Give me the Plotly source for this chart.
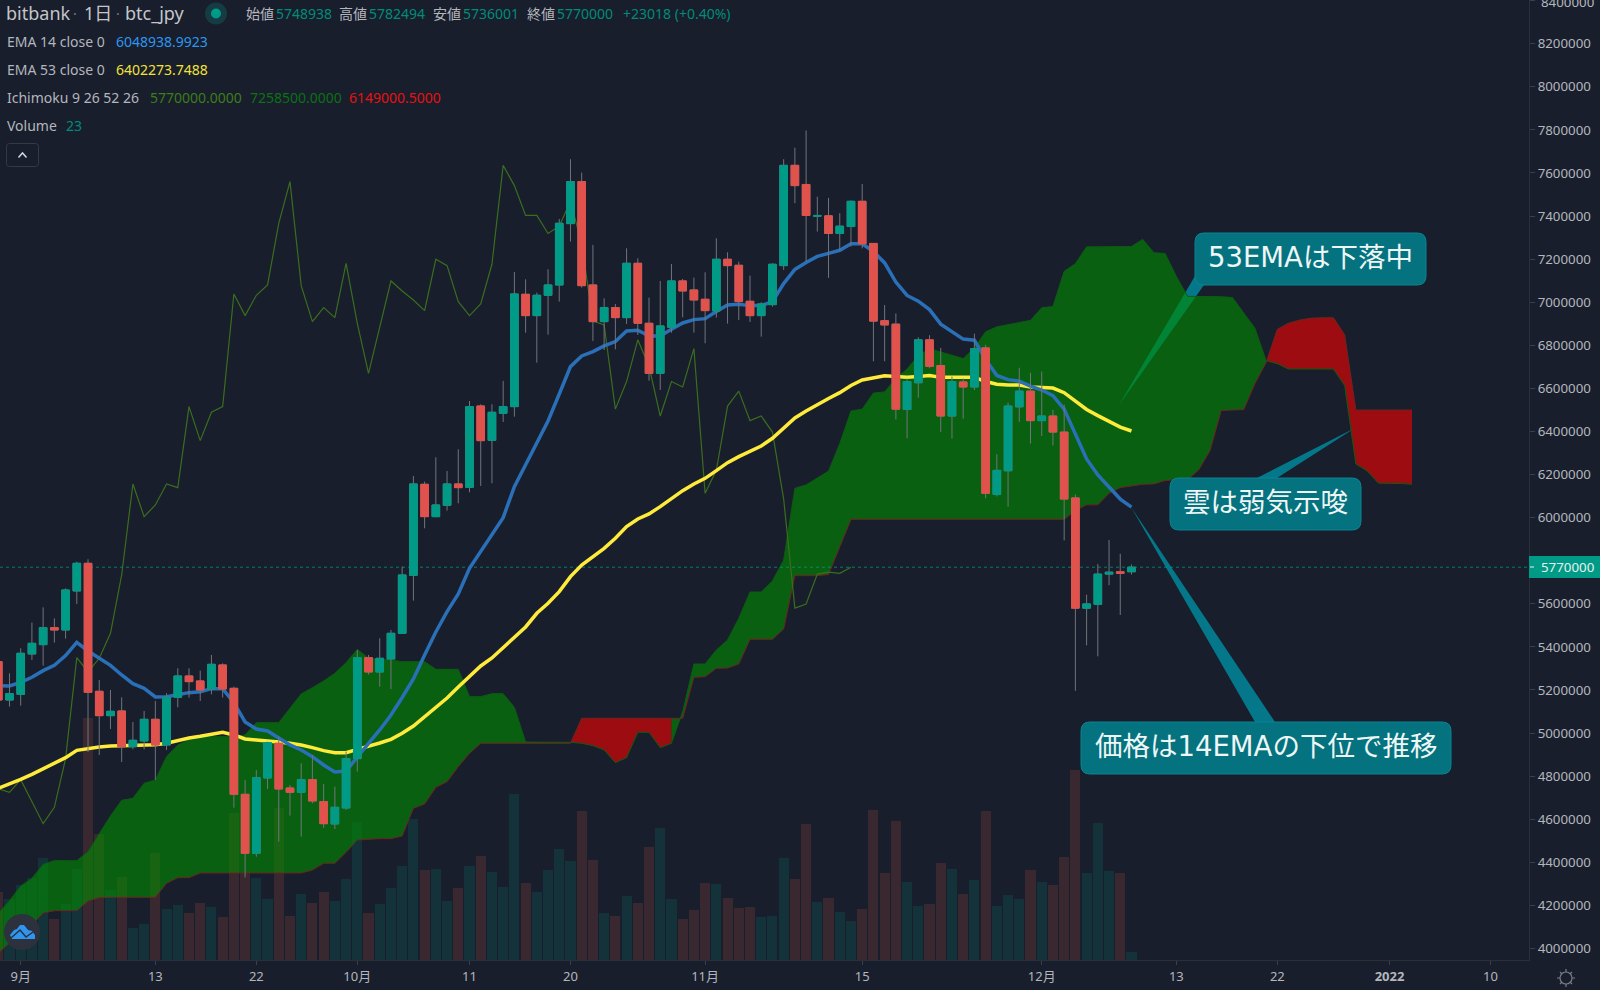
import pandas as pd
import plotly.graph_objects as go

# candles, one per day from 2021-08-30 (bitbank btc_jpy)
opens = [5331600, 5153600, 5180000, 5367200, 5410500, 5489500, 5478600, 5659700, 5788100, 5193900, 5080900, 5102600, 4937000, 4963300, 5063900, 4944800, 5166000, 5265100, 5241900, 5204700, 5316100, 5207800, 4715700, 4441800, 4791600, 4952500, 4745100, 4725000, 4783800, 4681700, 4578000, 4652300, 4881300, 5350200, 5283600, 5344000, 5463150, 5732400, 6154800, 6004700, 6057300, 6156400, 6140900, 6518500, 6359100, 6484500, 6515400, 7036900, 6937900, 7032300, 7080200, 7365000, 7560000, 7080200, 6910000, 6975000, 6928600, 7180800, 6902300, 6670100, 6883700, 7098800, 7057000, 7013700, 6959500, 7199400, 7171500, 7004400, 6937900, 6988900, 7170000, 7635500, 7546700, 7399300, 7401000, 7319300, 7351300, 7468500, 7273000, 6914200, 6898200, 6502000, 6626400, 6825400, 6706300, 6471800, 6629900, 6606800, 6788000, 6107600, 6217700, 6514500, 6587300, 6450500, 6471800, 6397200, 6091600, 5579900, 5597700, 5738000, 5748700, 5748938]
highs = [5370000, 5277400, 5393500, 5512700, 5583850, 5532800, 5672000, 5795900, 5806700, 5246500, 5200100, 5166000, 5051500, 5102600, 5149000, 5184600, 5300700, 5300700, 5289800, 5362600, 5323900, 5215550, 4782250, 4828700, 4960200, 4983400, 4759000, 4859600, 4898300, 4763700, 4751300, 4913800, 5385800, 5362600, 5439900, 5478600, 5772600, 6193500, 6167200, 6280200, 6216700, 6317300, 6541700, 6526200, 6526200, 6634600, 7140600, 7106500, 7044600, 7153000, 7386700, 7663600, 7601700, 7265900, 7018300, 6992000, 7250500, 7204000, 7021400, 7098800, 7177700, 7108100, 7114300, 7139000, 7296900, 7231900, 7188600, 7123600, 6999800, 7180800, 7664000, 7717200, 7797300, 7489900, 7484600, 7413400, 7472000, 7548500, 7273000, 6987000, 6948000, 6645900, 6837800, 6846700, 6788000, 6654800, 6645900, 6853800, 6802300, 6294100, 6534000, 6695700, 6672600, 6677900, 6500200, 6525000, 6107600, 5642100, 5784200, 5896100, 5832200, 5782494]
lows = [5130000, 5122700, 5127000, 5339350, 5313000, 5419800, 5438400, 5599300, 4912200, 4898300, 5019000, 4865800, 4924600, 4924600, 4782250, 4921500, 5119600, 5164500, 5149000, 5180000, 5164500, 4653800, 4330400, 4426300, 4740500, 4496000, 4616600, 4519200, 4673900, 4559400, 4554800, 4643000, 4820900, 5271300, 5215550, 5204700, 5460000, 5614800, 5950600, 6001600, 6032600, 6066600, 6117700, 6147100, 6159500, 6444200, 6469000, 6858900, 6719700, 6849700, 7002900, 7281400, 7067900, 6820300, 6778500, 6781600, 6899200, 6848100, 6636100, 6592800, 6858900, 6930100, 6858900, 6809400, 6928600, 6900700, 6917700, 6908500, 6840400, 6979700, 7150000, 7459600, 7187800, 7328200, 7113200, 7241100, 7258900, 7250000, 6725800, 6725800, 6455800, 6368700, 6557100, 6693900, 6397200, 6367000, 6459400, 6592600, 6089800, 6098700, 6050700, 6445100, 6343900, 6379400, 6335000, 5894400, 5196100, 5407500, 5356000, 5686500, 5547900, 5736001]
closes = [5153600, 5183000, 5370300, 5416700, 5489500, 5478600, 5664300, 5788100, 5189250, 5080900, 5101000, 4937000, 4966400, 5063900, 4944800, 5166000, 5265100, 5238800, 5200100, 5319200, 5204700, 4715700, 4441800, 4793000, 4955600, 4740500, 4725000, 4783800, 4684800, 4579500, 4655400, 4881300, 5350200, 5283600, 5347100, 5463150, 5733900, 6156400, 6004700, 6058900, 6156400, 6139400, 6515400, 6357500, 6489100, 6515400, 7038500, 6937900, 7032300, 7080200, 7366500, 7560000, 7077100, 6910000, 6975000, 6928600, 7180800, 6902300, 6670100, 6889900, 7098800, 7052400, 7010600, 6961100, 7199400, 7170000, 7002900, 6937900, 6992000, 7176200, 7635500, 7541400, 7402800, 7402800, 7319300, 7353000, 7468500, 7271300, 6912400, 6894700, 6503800, 6631700, 6825400, 6702800, 6471800, 6631700, 6606800, 6784500, 6112900, 6219500, 6518000, 6587300, 6450500, 6471800, 6397200, 6086300, 5579900, 5599400, 5738000, 5746900, 5741600, 5770000]
volumes = [205, 183, 225, 245, 305, 124, 168, 273, 725, 377, 210, 250, 95, 107, 320, 152, 165, 140, 170, 160, 130, 442, 260, 247, 183, 455, 132, 199, 170, 204, 177, 243, 415, 140, 168, 215, 283, 423, 270, 273, 177, 217, 283, 313, 264, 220, 498, 232, 204, 271, 333, 296, 447, 300, 142, 133, 193, 172, 339, 396, 184, 123, 150, 232, 229, 186, 156, 159, 130, 133, 306, 243, 409, 173, 187, 145, 117, 153, 449, 261, 417, 234, 163, 168, 292, 274, 199, 240, 447, 163, 195, 182, 269, 234, 225, 309, 571, 262, 412, 266, 261, 23]

ema14 = [5220200, 5218600, 5235700, 5258900, 5289800, 5314600, 5359500, 5421400, 5381100, 5347100, 5314600, 5269700, 5229500, 5207800, 5167600, 5169100, 5180000, 5187700, 5192300, 5206300, 5206300, 5141300, 5051500, 5019000, 5009700, 4975700, 4944800, 4921500, 4890600, 4851900, 4819400, 4824000, 4890600, 4952500, 5014400, 5084000, 5165000, 5251000, 5362600, 5469400, 5563700, 5645700, 5764900, 5842300, 5922800, 6000200, 6144000, 6244600, 6349900, 6448900, 6574200, 6701100, 6750600, 6770700, 6797000, 6817200, 6866700, 6869800, 6843500, 6843500, 6874500, 6903800, 6919300, 6923900, 6956500, 6987400, 6990500, 6984300, 6984300, 7002900, 7086500, 7152300, 7184200, 7212700, 7226900, 7241100, 7271300, 7271300, 7235800, 7182500, 7093600, 7031500, 7004800, 6965700, 6898200, 6862700, 6828900, 6823600, 6734750, 6660100, 6640600, 6633500, 6610400, 6592600, 6566000, 6503800, 6391800, 6272800, 6198200, 6139600, 6086300, 6048938]
ema53 = [4743600, 4763700, 4785300, 4808600, 4834900, 4858100, 4885900, 4920000, 4929300, 4935500, 4940100, 4941600, 4944800, 4944800, 4946300, 4952500, 4966400, 4977200, 4985000, 4995800, 5003500, 4991200, 4972600, 4968000, 4964900, 4958700, 4952500, 4944800, 4932400, 4918400, 4909100, 4909100, 4924600, 4938600, 4954000, 4971000, 4998900, 5032950, 5074700, 5116500, 5162900, 5214000, 5260400, 5311500, 5348600, 5395000, 5446100, 5492600, 5556000, 5602400, 5656500, 5726200, 5780300, 5819000, 5857700, 5904100, 5958300, 5993800, 6017200, 6051100, 6089800, 6125300, 6156400, 6182600, 6218300, 6255300, 6283300, 6306500, 6332800, 6368400, 6414900, 6462900, 6494900, 6525100, 6553500, 6580200, 6613900, 6638800, 6649500, 6658400, 6654800, 6651200, 6654800, 6660100, 6651200, 6651200, 6651200, 6651200, 6631700, 6619300, 6615700, 6615700, 6606800, 6603300, 6601500, 6580200, 6539300, 6502000, 6473600, 6446900, 6420300, 6402273]

# ichimoku leading spans run 25 days past the last candle
lead_a = [4163250, 4222100, 4290100, 4325700, 4390700, 4407800, 4407800, 4407800, 4449600, 4531500, 4615100, 4687900, 4697100, 4766800, 4782200, 4890600, 4944800, 4968000, 4983400, 4983400, 4983400, 4983400, 4991200, 5048400, 5048400, 5048400, 5115000, 5181500, 5210900, 5241900, 5277400, 5326950, 5388900, 5347100, 5342400, 5339350, 5331600, 5331600, 5331600, 5296000, 5296000, 5296000, 5169100, 5169100, 5183000, 5183000, 5119600, 4958700, 4958000, 4958000, 4958000, 4957100, 4952500, 4941650, 4921500, 4862700, 4885950, 5003550, 5003550, 4932350, 4952500, 5099500, 5320800, 5320800, 5385800, 5432200, 5532800, 5655000, 5655000, 5706100, 5803600, 6136300, 6152000, 6184000, 6216000, 6343900, 6494900, 6503800, 6578400, 6583700, 6645900, 6690300, 6752500, 6784500, 6770300, 6755000, 6738300, 6788000, 6862700, 6885800, 6894700, 6903600, 6916000, 6974600, 6980000, 7143400, 7178900, 7257100, 7257100, 7257100, 7257100, 7258300, 7292000, 7229800, 7226300, 7119700, 7027300, 7027300, 7027300, 7025600, 7021900, 6950900, 6879800, 6728800, 6714600, 6689700, 6689700, 6689700, 6689700, 6689700, 6613300, 6249100, 6217100, 6160300, 6158500, 6158500, 6154900]
lead_b = [3979000, 4025000, 4063000, 4109000, 4165000, 4175600, 4175600, 4175600, 4220500, 4235950, 4237500, 4237500, 4237500, 4237500, 4237500, 4302500, 4328800, 4328800, 4350500, 4350500, 4350500, 4350500, 4350500, 4350500, 4350500, 4350500, 4350500, 4350500, 4364400, 4395400, 4395400, 4446450, 4503700, 4508300, 4509900, 4509900, 4522300, 4650700, 4670850, 4748200, 4774500, 4844150, 4906000, 4952500, 4952500, 4952500, 4952500, 4952500, 4952500, 4952500, 4952500, 4952500, 5068550, 5068550, 5068550, 5068550, 5068550, 5068550, 5068550, 5068550, 5068550, 5068550, 5258900, 5262000, 5300700, 5302200, 5320800, 5435300, 5435300, 5435300, 5483300, 5730900, 5730900, 5730900, 5736200, 5864200, 5992100, 5992100, 5992100, 5992100, 5992100, 5992100, 5992100, 5992100, 5992100, 5992100, 5992100, 5992100, 5992100, 5992100, 5992100, 5992100, 5992100, 5992100, 5992100, 5992100, 6033000, 6059600, 6059600, 6112900, 6139600, 6147000, 6154900, 6156700, 6172700, 6176200, 6176200, 6222400, 6311300, 6497800, 6499600, 6501400, 6622200, 6719900, 6874500, 6902900, 6917100, 6926000, 6927800, 6927800, 6849600, 6499600, 6499600, 6499600, 6499600, 6499600, 6499600]

# 5800000 is left out, the last price badge sits on top of it
price_ticks = [4000000, 4200000, 4400000, 4600000, 4800000, 5000000, 5200000, 5400000, 5600000, 6000000, 6200000, 6400000, 6600000, 6800000, 7000000, 7200000, 7400000, 7600000, 7800000, 8000000, 8200000, 8400000]
date_ticks = ["2021-09-01", "2021-09-13", "2021-09-22", "2021-10-01", "2021-10-11", "2021-10-20", "2021-11-01", "2021-11-15", "2021-12-01", "2021-12-13", "2021-12-22", "2022-01-01", "2022-01-10"]
date_labels = ["9月", "13", "22", "10月", "11", "20", "11月", "15", "12月", "13", "22", "<b>2022</b>", "10"]
last_price = 5770000
price_range = [3946600, 8403000]

assert len(opens) == len(highs) == len(lows) == len(closes) == len(volumes) == len(ema14) == len(ema53) == 102
assert len(lead_a) == len(lead_b) == 127

BG = "#181e2b"
TEAL = "#009b87"
RED = "#e2524c"
WICK = "#71747c"
GREY = "#b4b6be"
FONT = "Noto Sans, Noto Sans CJK JP"
CALLOUT_FONT = "DejaVu Sans, Noto Sans CJK JP"

# plot area in screen pixels, used to place the header and the callouts
PLOT_W = 1529
PLOT_H = 960


def fx(px):
    return px / PLOT_W


def fy(py):
    return 1 - py / PLOT_H


def path_of(points):
    return "M " + " L ".join(f"{fx(x):.5f} {fy(y):.5f}" for x, y in points) + " Z"


def rounded_box(x0, y0, x1, y1, r):
    p = lambda x, y: f"{fx(x):.5f} {fy(y):.5f}"
    return (f"M {p(x0 + r, y0)} L {p(x1 - r, y0)} Q {p(x1, y0)} {p(x1, y0 + r)} "
            f"L {p(x1, y1 - r)} Q {p(x1, y1)} {p(x1 - r, y1)} L {p(x0 + r, y1)} "
            f"Q {p(x0, y1)} {p(x0, y1 - r)} L {p(x0, y0 + r)} Q {p(x0, y0)} {p(x0 + r, y0)} Z")


dates = pd.date_range("2021-08-30", periods=len(lead_a), freq="D")
candle_dates = dates[:len(closes)]
body_high = [max(o, c) for o, c in zip(opens, closes)]
body_low = [min(o, c) for o, c in zip(opens, closes)]
x_range = ["2021-08-30 03:43", "2022-01-13 10:19"]

fig = go.Figure()

# volume sits on the primary axis so everything else draws over it
fig.add_trace(go.Bar(
    x=candle_dates, y=volumes, yaxis="y", width=0.9 * 86400000,
    marker=dict(color=["#14323a" if c >= o else "#3a2830" for o, c in zip(opens, closes)], line_width=0),
))

# cloud: each stretch takes its colour from the sign at its right hand end
signs = [a >= b for a, b in zip(lead_a, lead_b)]
start = 0
for i in range(1, len(dates)):
    if i == len(dates) - 1 or signs[i + 1] != signs[i]:
        xs = list(dates[start:i + 1])
        fig.add_trace(go.Scatter(
            x=xs + xs[::-1], y=lead_a[start:i + 1] + lead_b[start:i + 1][::-1], yaxis="y2",
            mode="lines", line_width=0, fill="toself",
            fillcolor="rgba(2,140,0,0.6)" if signs[i] else "rgba(245,0,0,0.6)",
        ))
        start = i

fig.add_trace(go.Scatter(x=dates, y=lead_a, yaxis="y2", mode="lines", line=dict(color="#0c5c12", width=1)))
fig.add_trace(go.Scatter(x=dates, y=lead_b, yaxis="y2", mode="lines", line=dict(color="#6e2420", width=1)))

# lagging span is the close moved back 25 days
fig.add_trace(go.Scatter(x=candle_dates[:-25], y=closes[25:], yaxis="y2", mode="lines", line=dict(color="#3a6e1e", width=1.2)))

fig.add_trace(go.Scatter(x=x_range, y=[last_price, last_price], yaxis="y2", mode="lines",
                         line=dict(color="rgba(0,155,135,0.75)", width=1, dash="dot")))
fig.add_trace(go.Scatter(x=candle_dates, y=ema53, yaxis="y2", mode="lines", line=dict(color="#ffeb3b", width=3.5)))
fig.add_trace(go.Scatter(x=candle_dates, y=ema14, yaxis="y2", mode="lines", line=dict(color="#2a70b8", width=3.5)))

# candles get their own overlaying axis: plotly draws box traces under scatter in one subplot.
# wicks and bodies are two traces so the wicks can stay grey
fig.add_trace(go.Candlestick(
    x=candle_dates, open=opens, high=highs, low=lows, close=closes, yaxis="y3", whiskerwidth=0,
    increasing=dict(line=dict(color=WICK, width=1), fillcolor=WICK),
    decreasing=dict(line=dict(color=WICK, width=1), fillcolor=WICK),
))
fig.add_trace(go.Candlestick(
    x=candle_dates, open=opens, high=body_high, low=body_low, close=closes, yaxis="y3", whiskerwidth=0,
    increasing=dict(line=dict(color=TEAL, width=1), fillcolor=TEAL),
    decreasing=dict(line=dict(color=RED, width=1), fillcolor=RED),
))

shapes = []
annotations = []


def add_text(x, y, text, color=GREY, size=14, anchor="left", family=FONT):
    annotations.append(dict(xref="paper", yref="paper", x=fx(x), y=fy(y), text=text, showarrow=False,
                            xanchor=anchor, yanchor="middle", font=dict(family=family, size=size, color=color)))


# header
add_text(4, 13, "bitbank", "#c4c6cc", 18)
add_text(71, 13, "·", "#787b84", 14)
add_text(82, 13, "1日", "#c4c6cc", 18)
add_text(114, 13, "·", "#787b84", 14)
add_text(123, 13, "btc_jpy", "#c4c6cc", 18)
for x, label, value in [(244, "始値", "5748938"), (337, "高値", "5782494"), (431, "安値", "5736001"), (525, "終値", "5770000")]:
    add_text(x, 13, label, GREY, 14)
    add_text(x + 30, 13, value, "#008c7a", 14)
add_text(621, 13, "+23018 (+0.40%)", "#008c7a", 14)
add_text(5, 42, "EMA 14 close 0")
add_text(114, 42, "6048938.9923", "#2f96f0")
add_text(5, 70, "EMA 53 close 0")
add_text(114, 70, "6402273.7488", "#f2e23a")
add_text(5, 98, "Ichimoku 9 26 52 26")
add_text(148, 98, "5770000.0000", "#3c7d1c")
add_text(248, 98, "7258500.0000", "#0c7016")
add_text(347, 98, "6149000.5000", "#e51212")
add_text(5, 126, "Volume")
add_text(64, 126, "23", "#008c7a")

# plotly drops the top tick label because it runs off the plot, so it goes in by hand
add_text(1539, 2, "8400000", GREY, 13.3)

# status dot
shapes.append(dict(type="circle", xref="paper", yref="paper", x0=fx(205), x1=fx(227), y0=fy(24.5), y1=fy(2.5),
                   fillcolor="#143c42", line_width=0))
shapes.append(dict(type="circle", xref="paper", yref="paper", x0=fx(211), x1=fx(221), y0=fy(18.5), y1=fy(8.5),
                   fillcolor="#009b87", line_width=0))
# collapse button
shapes.append(dict(type="path", xref="paper", yref="paper", path=rounded_box(6.5, 143.5, 38.5, 166.5, 3),
                   line=dict(color="#343946", width=1)))
shapes.append(dict(type="path", xref="paper", yref="paper",
                   path=f"M {fx(18.5)} {fy(157.5)} L {fx(22.5)} {fy(153)} L {fx(26.5)} {fy(157.5)}",
                   line=dict(color="#d4d6dc", width=1.5)))

# logo bottom left
shapes.append(dict(type="circle", xref="paper", yref="paper", x0=fx(4), x1=fx(40), y0=fy(950), y1=fy(914),
                   fillcolor="#2d313e", line_width=0))
shapes.append(dict(type="path", xref="paper", yref="paper",
                   path=path_of([(10, 935), (14, 930), (17, 929), (20, 925), (24, 925), (28, 930), (32, 931), (35, 935),
                                 (35, 939), (12, 939)]),
                   fillcolor="#2f96f0", line_width=0))
shapes.append(dict(type="path", xref="paper", yref="paper",
                   path=f"M {fx(11)} {fy(938)} L {fx(20)} {fy(930)} L {fx(26)} {fy(937)} L {fx(33)} {fy(932)}",
                   line=dict(color="#2d313e", width=1.5)))

# gear bottom right
shapes.append(dict(type="circle", xref="paper", yref="paper", x0=fx(1560), x1=fx(1572), y0=fy(984), y1=fy(972),
                   line=dict(color="#7a7d85", width=1.2)))
spokes = ""
for x0, y0, x1, y1 in [(1566, 969, 1566, 972), (1566, 984, 1566, 987), (1557, 978, 1560, 978), (1572, 978, 1575, 978),
                       (1560, 972, 1562, 974), (1572, 972, 1570, 974), (1560, 984, 1562, 982), (1572, 984, 1570, 982)]:
    spokes += f"M {fx(x0):.5f} {fy(y0):.5f} L {fx(x1):.5f} {fy(y1):.5f} "
shapes.append(dict(type="path", xref="paper", yref="paper", path=spokes, line=dict(color="#7a7d85", width=1.2)))

# callouts: tails under the traces, boxes over them
callouts = [
    ("53EMAは下落中", (1195, 233, 1426, 285), [(1195, 276), (1204, 285), (1119, 405)]),
    ("雲は弱気示唆", (1170, 478, 1361, 530), [(1257, 478), (1277, 478), (1355, 428)]),
    ("価格は14EMAの下位で推移", (1081, 722, 1451, 774), [(1255, 722), (1275, 722), (1131, 507)]),
]
for text, box, tail in callouts:
    shapes.append(dict(type="path", xref="paper", yref="paper", path=path_of(tail), layer="below",
                       fillcolor="#04788a", line_width=0))
    shapes.append(dict(type="path", xref="paper", yref="paper", path=rounded_box(*box, 9),
                       fillcolor="#04727f", line=dict(color="#0b8494", width=1)))
    add_text((box[0] + box[2]) / 2, (box[1] + box[3]) / 2 - 2, text, "#eef6f6", 27.5, "center", CALLOUT_FONT)

# last price badge
shapes.append(dict(type="rect", xref="paper", yref="paper", x0=fx(1529), x1=fx(1600), y0=fy(578), y1=fy(556),
                   fillcolor="#009b87", line_width=0))
shapes.append(dict(type="line", xref="paper", yref="paper", x0=fx(1530), x1=fx(1534), y0=fy(567), y1=fy(567),
                   line=dict(color="#e8f0ee", width=1)))
add_text(1539, 567, "5770000", "#e8f0ee", 13.3)

fig.update_layout(
    width=1600, height=990,
    margin=dict(l=0, r=71, t=0, b=30),
    paper_bgcolor=BG, plot_bgcolor=BG,
    showlegend=False, bargap=0, boxgap=0.32, boxgroupgap=0, boxmode="overlay",
    font=dict(family=FONT, color=GREY, size=13),
    xaxis=dict(type="date", range=x_range, rangeslider_visible=False, showgrid=False, zeroline=False,
               tickmode="array", tickvals=date_ticks, ticktext=date_labels, ticks="outside", ticklen=4, tickwidth=1,
               tickcolor="#3a3f4c", showline=True, linecolor="#2a2f3c", linewidth=1,
               tickfont=dict(family=FONT, size=13, color=GREY)),
    yaxis=dict(range=[0, 2880], visible=False, fixedrange=True),
    yaxis2=dict(range=price_range, overlaying="y", side="right", showgrid=False, zeroline=False,
                tickmode="array", tickvals=price_ticks, ticktext=[str(v) for v in price_ticks],
                ticks="outside", ticklen=5, tickwidth=1, tickcolor="#3a3f4c", showline=True,
                linecolor="#2a2f3c", linewidth=1,
                tickfont=dict(family=FONT, size=13.3, color=GREY)),
    yaxis3=dict(range=price_range, overlaying="y", visible=False),
    shapes=shapes,
    annotations=annotations,
)

# the default page keeps the browser's 8px body margin
fig.write_html("out.html", config=dict(displayModeBar=False), post_script="document.body.style.margin = '0';")
